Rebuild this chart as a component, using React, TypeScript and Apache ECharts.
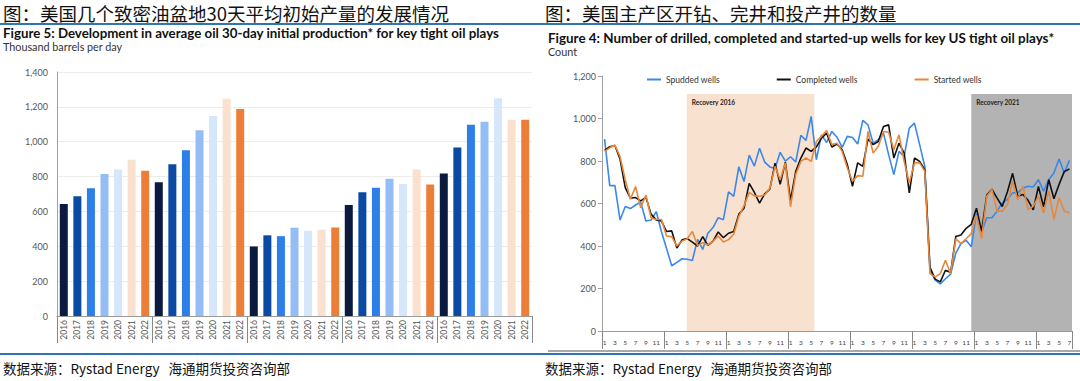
import React, { useEffect, useRef } from "react";
import * as echarts from "echarts";

// ---------- Left chart data (thousand barrels per day) ----------
const years = ["2016", "2017", "2018", "2019", "2020", "2021", "2022"];
const yearColors = ["#0b1b3f", "#0b4aa2", "#2c7fe9", "#93bdf4", "#d6e6fb", "#fae1cf", "#ec7e37"];
const play1 = [642, 687, 733, 815, 840, 896, 834];
const play2 = [767, 871, 951, 1066, 1147, 1247, 1187];
const play3 = [399, 463, 458, 506, 489, 495, 508];
const play4 = [637, 710, 736, 788, 758, 840, 754];
const play5 = [817, 967, 1097, 1114, 1249, 1126, 1126];
const plays = [play1, play2, play3, play4, play5];
const leftTicks = [0, 200, 400, 600, 800, 1000, 1200, 1400];

// ---------- Right chart data (count), Jan 2015 - Jul 2022 ----------
const fullYearMonths = ["1", "2", "3", "4", "5", "6", "7", "8", "9", "10", "11", "12"];
const lastYearMonths = ["1", "2", "3", "4", "5", "6", "7"];
const fullYearsCount = 7;
const spudded = [
  903, 684, 684, 522, 586, 576, 593, 606, 518, 522, 562, 468,
  388, 307, 323, 340, 338, 332, 431, 384, 460, 487, 533, 524,
  655, 634, 773, 703, 828, 776, 860, 795, 772, 765, 841, 799,
  820, 795, 921, 897, 1010, 806, 923, 887, 939, 912, 864, 916,
  911, 880, 991, 970, 884, 900, 931, 830, 736, 845, 822, 955,
  978, 877, 775, 286, 239, 222, 246, 268, 366, 411, 427, 396,
  552, 466, 533, 533, 564, 603, 619, 650, 650, 673, 681, 678,
  712, 658, 712, 744, 809, 744, 803,
];
const completed = [
  850, 867, 873, 808, 675, 625, 628, 612, 629, 550, 523, 518,
  468, 471, 390, 429, 435, 418, 400, 444, 403, 423, 466, 439,
  460, 468, 550, 578, 695, 652, 602, 645, 668, 790, 690, 795,
  615, 750, 814, 861, 845, 866, 908, 931, 866, 880, 853, 783,
  681, 791, 775, 903, 877, 892, 962, 970, 814, 884, 837, 650,
  814, 798, 759, 300, 244, 231, 286, 275, 445, 452, 483, 502,
  578, 470, 640, 667, 625, 586, 655, 742, 634, 642, 615, 570,
  680, 585, 712, 622, 690, 750, 762,
];
const started = [
  845, 862, 875, 820, 712, 620, 680, 580, 640, 533, 525, 525,
  447, 444, 400, 423, 434, 468, 402, 416, 405, 423, 447, 419,
  430, 455, 540, 590, 652, 636, 634, 640, 672, 775, 712, 791,
  585, 736, 798, 814, 798, 892, 916, 944, 877, 884, 845, 767,
  705, 731, 728, 939, 837, 869, 939, 935, 853, 923, 798, 697,
  791, 791, 752, 270, 255, 270, 333, 270, 434, 411, 434, 458,
  545, 435, 634, 666, 564, 564, 595, 705, 619, 681, 572, 587,
  634, 556, 658, 525, 627, 564, 556,
];
const recovery2016 = { name: "Recovery 2016", from: 16.4, to: 41.1, top: 1115 };
const recovery2021 = { name: "Recovery 2021", from: 71.5, to: 91, top: 1115 };

const LATIN = "Lato, 'Noto Sans', sans-serif";
const CJK = "'Noto Sans CJK SC', sans-serif";

export default function App() {
  const ref = useRef<HTMLDivElement>(null);

  useEffect(() => {
    if (!ref.current) return;
    const chart = echarts.init(ref.current, undefined, { renderer: "svg" });

    const barCats: string[] = [];
    const barData: any[] = [];
    plays.forEach((p) => {
      p.forEach((v, i) => {
        barCats.push(years[i]);
        barData.push({ value: v, itemStyle: { color: yearColors[i] } });
      });
    });

    const monthCats: string[] = [];
    for (let y = 0; y < fullYearsCount; y++) monthCats.push(...fullYearMonths);
    monthCats.push(...lastYearMonths);

    const fmt = (v: number) => v.toLocaleString("en-US");

    const option: any = {
      animation: false,
      backgroundColor: "#ffffff",
      textStyle: { fontFamily: LATIN },
      grid: [
        { left: 57, top: 72, width: 475, height: 244 },
        { left: 602, top: 76, width: 470, height: 255 },
      ],
      legend: {
        data: ["Spudded wells", "Completed wells", "Started wells"],
        left: 642,
        top: 70,
        icon: "rect",
        itemWidth: 14,
        itemHeight: 2,
        itemGap: 57,
        textStyle: { fontSize: 8.5, color: "#333", fontFamily: LATIN },
      },
      xAxis: [
        {
          type: "category",
          gridIndex: 0,
          data: barCats,
          axisLine: { lineStyle: { color: "#9a9a9a" } },
          axisTick: { show: false },
          axisLabel: { rotate: 90, fontSize: 8.5, color: "#555", margin: 4, interval: 0 },
        },
        {
          type: "value",
          gridIndex: 0,
          position: "bottom",
          min: 0,
          max: plays.length * years.length,
          interval: years.length,
          axisLine: { show: false },
          axisLabel: { show: false },
          splitLine: { show: false },
          axisTick: { show: true, length: 27, lineStyle: { color: "#888" } },
        },
        {
          type: "category",
          gridIndex: 1,
          data: monthCats,
          axisLine: { lineStyle: { color: "#9a9a9a" } },
          axisTick: { show: false },
          axisLabel: { interval: 1, fontSize: 6.5, color: "#444", margin: 8 },
        },
        {
          type: "value",
          gridIndex: 1,
          position: "bottom",
          min: 0,
          max: monthCats.length,
          interval: 12,
          axisLine: { show: false },
          axisLabel: { show: false },
          splitLine: { show: false },
          axisTick: { show: true, length: 18, lineStyle: { color: "#888" } },
        },
      ],
      yAxis: [
        {
          type: "value",
          gridIndex: 0,
          min: leftTicks[0],
          max: leftTicks[leftTicks.length - 1],
          interval: 200,
          axisLine: { show: true, lineStyle: { color: "#a0a0a0" } },
          axisTick: { show: false },
          axisLabel: { fontSize: 9, color: "#555", margin: 9, formatter: fmt },
          splitLine: { lineStyle: { color: "#ececec" } },
        },
        {
          type: "value",
          gridIndex: 1,
          min: 0,
          max: 1200,
          interval: 200,
          axisLine: { show: true, lineStyle: { color: "#a0a0a0" } },
          axisTick: { show: true, length: 4, lineStyle: { color: "#a0a0a0" } },
          axisLabel: { fontSize: 9, color: "#555", margin: 6, formatter: fmt },
          splitLine: { show: false },
        },
      ],
      series: [
        {
          type: "bar",
          xAxisIndex: 0,
          yAxisIndex: 0,
          data: barData,
          barWidth: 8,
        },
        {
          type: "line",
          name: "bands",
          xAxisIndex: 3,
          yAxisIndex: 1,
          data: [[0, 0]],
          showSymbol: false,
          symbol: "none",
          lineStyle: { opacity: 0 },
          z: 0,
          silent: true,
          markArea: {
            silent: true,
            label: {
              show: true,
              position: "insideTopLeft",
              fontSize: 6.5,
              fontWeight: "bold",
              color: "#222",
              fontFamily: LATIN,
            },
            data: [
              [
                { name: recovery2016.name, xAxis: recovery2016.from, yAxis: 0, itemStyle: { color: "#f8e1cf" } },
                { xAxis: recovery2016.to, yAxis: recovery2016.top },
              ],
              [
                { name: recovery2021.name, xAxis: recovery2021.from, yAxis: 0, itemStyle: { color: "#b3b3b3" } },
                { xAxis: recovery2021.to, yAxis: recovery2021.top },
              ],
            ],
          },
        },
        {
          type: "line",
          name: "Spudded wells",
          xAxisIndex: 2,
          yAxisIndex: 1,
          data: spudded,
          symbol: "none",
          color: "#3a88ea",
          lineStyle: { width: 1.6, color: "#3a88ea" },
          z: 3,
        },
        {
          type: "line",
          name: "Completed wells",
          xAxisIndex: 2,
          yAxisIndex: 1,
          data: completed,
          symbol: "none",
          color: "#111111",
          lineStyle: { width: 1.6, color: "#111111" },
          z: 4,
        },
        {
          type: "line",
          name: "Started wells",
          xAxisIndex: 2,
          yAxisIndex: 1,
          data: started,
          symbol: "none",
          color: "#e8873a",
          lineStyle: { width: 1.6, color: "#e8873a" },
          z: 5,
        },
      ],
      graphic: [
        {
          type: "text",
          x: 3,
          y: 13,
          style: {
            text: "图：美国几个致密油盆地30天平均初始产量的发展情况",
            fontSize: 18.5,
            lineHeight: 20,
            verticalAlign: "middle",
            fill: "#111",
            fontFamily: CJK,
          },
        },
        {
          type: "text",
          x: 545,
          y: 13,
          style: {
            text: "图：美国主产区开钻、完井和投产井的数量",
            fontSize: 18.5,
            lineHeight: 20,
            verticalAlign: "middle",
            fill: "#111",
            fontFamily: CJK,
          },
        },
        {
          type: "line",
          shape: { x1: 0, y1: 24, x2: 1080, y2: 24 },
          style: { stroke: "#2f74b5", lineWidth: 2 },
        },
        {
          type: "text",
          x: 3,
          y: 33,
          style: {
            text: "Figure 5: Development in average oil 30-day initial production* for key tight oil plays",
            fontSize: 13.3,
            lineHeight: 14,
            verticalAlign: "middle",
            fontWeight: "bold",
            fill: "#111",
            fontFamily: LATIN,
          },
        },
        {
          type: "text",
          x: 3,
          y: 46,
          style: {
            text: "Thousand barrels per day",
            fontSize: 10.8,
            lineHeight: 12,
            verticalAlign: "middle",
            fill: "#333",
            fontFamily: LATIN,
          },
        },
        {
          type: "text",
          x: 548,
          y: 38,
          style: {
            text: "Figure 4: Number of drilled, completed and started-up wells for key US tight oil plays*",
            fontSize: 13.4,
            lineHeight: 14,
            verticalAlign: "middle",
            fontWeight: "bold",
            fill: "#111",
            fontFamily: LATIN,
          },
        },
        {
          type: "text",
          x: 548,
          y: 51,
          style: {
            text: "Count",
            fontSize: 10.8,
            lineHeight: 12,
            verticalAlign: "middle",
            fill: "#333",
            fontFamily: LATIN,
          },
        },
        {
          type: "line",
          shape: { x1: 548, y1: 351, x2: 1080, y2: 351 },
          style: { stroke: "#555", lineWidth: 1 },
        },
        {
          type: "line",
          shape: { x1: 0, y1: 354, x2: 1080, y2: 354 },
          style: { stroke: "#2f74b5", lineWidth: 2 },
        },
        {
          type: "text",
          x: 3,
          y: 368,
          style: {
            text: "数据来源：Rystad Energy   海通期货投资咨询部",
            fontSize: 13.5,
            lineHeight: 15,
            verticalAlign: "middle",
            fill: "#111",
            fontFamily: CJK,
          },
        },
        {
          type: "text",
          x: 545,
          y: 368,
          style: {
            text: "数据来源：Rystad Energy   海通期货投资咨询部",
            fontSize: 13.5,
            lineHeight: 15,
            verticalAlign: "middle",
            fill: "#111",
            fontFamily: CJK,
          },
        },
      ],
    };

    chart.setOption(option);
    return () => chart.dispose();
  }, []);

  return (
    <div
      ref={ref}
      style={{ position: "fixed", left: 0, top: 0, width: 1080, height: 381, background: "#fff" }}
    />
  );
}
